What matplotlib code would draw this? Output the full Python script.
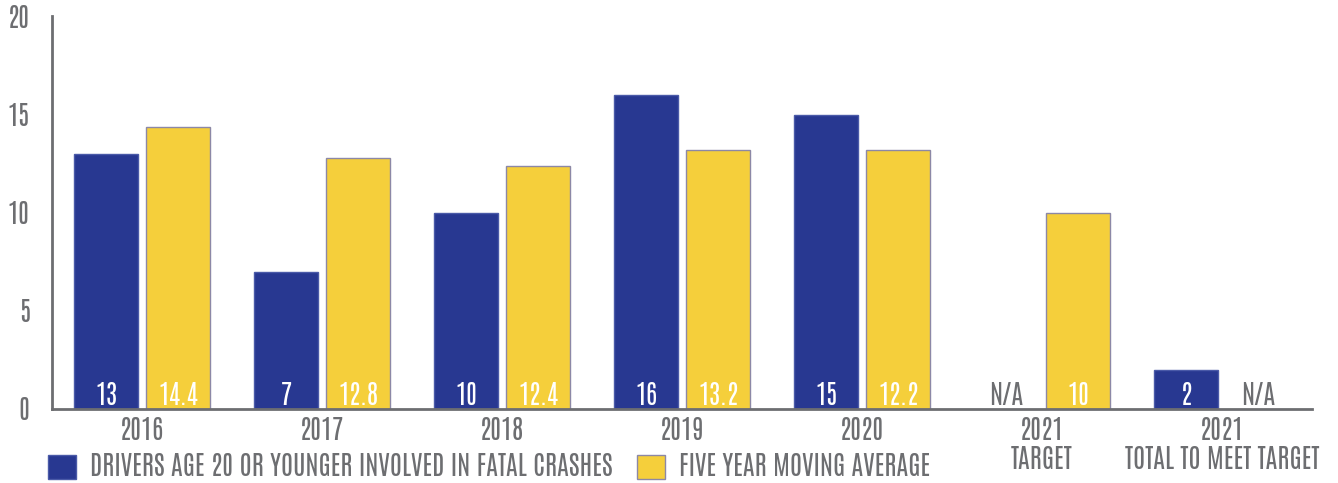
import matplotlib
matplotlib.use("Agg")
import matplotlib.pyplot as plt
from matplotlib.patches import Patch
import numpy as np

categories = ["2016", "2017", "2018", "2019", "2020", "2021\nTARGET", "2021\nTOTAL TO MEET TARGET"]
drivers = [13, 7, 10, 16, 15, None, 2]
drivers_labels = ["13", "7", "10", "16", "15", "N/A", "2"]
moving_avg = [14.4, 12.8, 12.4, 13.2, 13.2, 10, None]
moving_avg_labels = ["14.4", "12.8", "12.4", "13.2", "12.2", "10", "N/A"]
yticks = [0, 5, 10, 15, 20]
series_names = ["DRIVERS AGE 20 OR YOUNGER INVOLVED IN FATAL CRASHES", "FIVE YEAR MOVING AVERAGE"]

BLUE = "#283891"
BLUE_EDGE = "#4a5aa8"
YELLOW = "#f5cf3b"
YELLOW_EDGE = "#8c88a6"
GRAY = "#6d6e71"
FS = 19

plt.rcParams['font.family'] = ['Antonio', 'DejaVu Sans']

W, H = 1338, 483
fig = plt.figure(figsize=(W/100, H/100), dpi=100)
ax = fig.add_axes([52/W, 1-409/H, (1312-52)/W, (409-17)/H])

x = np.arange(len(categories))
w = 0.356
off = 0.2
lab_y = 0.2

for xi, v, lab in zip(x, drivers, drivers_labels):
    if v is not None:
        ax.bar(xi - off, v, width=w, color=BLUE, edgecolor=BLUE_EDGE, linewidth=1, zorder=2)
    ax.text(xi - off, lab_y, lab, ha='center', va='baseline',
            color='white' if v is not None else GRAY, fontsize=FS, zorder=3)
for xi, v, lab in zip(x, moving_avg, moving_avg_labels):
    if v is not None:
        ax.bar(xi + off, v, width=w, color=YELLOW, edgecolor=YELLOW_EDGE, linewidth=1, zorder=2)
    ax.text(xi + off, lab_y, lab, ha='center', va='baseline',
            color='white' if v is not None else GRAY, fontsize=FS, zorder=3)

ax.set_xlim(-0.5, 6.5)
ax.set_ylim(0, 20)
ax.spines['left'].set_bounds(0, 20.05)
ax.set_yticks(yticks)
ax.set_yticklabels([str(t) for t in yticks], fontsize=FS, color=GRAY)
ax.set_xticks(x)
ax.set_xticklabels(categories, fontsize=FS, color=GRAY, linespacing=1.1)
ax.tick_params(axis='both', length=0)
ax.tick_params(axis='y', pad=16)
ax.tick_params(axis='x', pad=6)
for s in ['top', 'right']:
    ax.spines[s].set_visible(False)
for s in ['left', 'bottom']:
    ax.spines[s].set_color(GRAY)
    ax.spines[s].set_linewidth(2)

ycen = 1 - 466/H
leg_kw = dict(loc='center left', frameon=False, fontsize=FS, labelcolor=GRAY,
              handlelength=1.05, handleheight=1.05, handletextpad=0.55,
              borderpad=0, borderaxespad=0)
l1 = fig.legend([Patch(facecolor=BLUE, edgecolor=BLUE_EDGE)], [series_names[0]],
                bbox_to_anchor=(48/W, ycen), **leg_kw)
l2 = fig.legend([Patch(facecolor=YELLOW, edgecolor=YELLOW_EDGE)], [series_names[1]],
                bbox_to_anchor=(637/W, ycen), **leg_kw)

fig.savefig("out.png", dpi=100)
